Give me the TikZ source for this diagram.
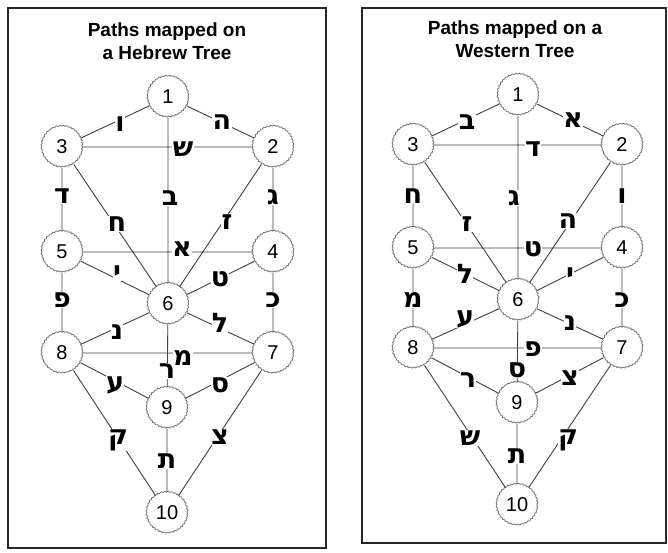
\documentclass[tikz,border=0pt]{standalone}
\usepackage{fontspec}
\setmainfont{Liberation Sans}
\newfontfamily\hebfont[Script=Hebrew]{DejaVu Sans}
\usetikzlibrary{decorations.pathmorphing}
\begin{document}
\begin{tikzpicture}[x=1pt,y=-1pt,
  sefira/.style={circle, minimum size=41pt, inner sep=0pt, fill=white, draw=black!55, line width=0.8pt,
    decorate, decoration={snake, amplitude=0.5pt, segment length=3.6pt},
    font=\fontsize{20}{20}\selectfont},
  conn/.style={draw=black!75, line width=0.9pt},
  heb/.style={fill=white, inner sep=0.3pt, yshift=-3pt, font=\hebfont\bfseries\fontsize{27}{27}\selectfont},
  ttl/.style={font=\bfseries\fontsize{19}{23}\selectfont, align=center},
  frame/.style={draw=black!85, line width=1.6pt}]
\useasboundingbox (0,0) rectangle (668,552);
\fill[white] (0,0) rectangle (668,552);
% frames
\draw[frame] (8,8) rectangle (326,548);
\draw[frame] (362,8) rectangle (666,543);
% titles
\node[ttl] (tL) at (167,41) {Paths mapped on\\a Hebrew Tree};
\node[ttl] (tR) at (515,39) {Paths mapped on a\\Western Tree};
% ---------------- left tree ----------------
\node[sefira] (L1) at (168,97) {1};
\node[sefira] (L3) at (62,147) {3};
\node[sefira] (L2) at (273,147) {2};
\node[sefira] (L5) at (62,252) {5};
\node[sefira] (L4) at (273,252) {4};
\node[sefira] (L6) at (168,304) {6};
\node[sefira] (L8) at (62,353) {8};
\node[sefira] (L7) at (273,353) {7};
\node[sefira] (L9) at (167,408) {9};
\node[sefira] (L10) at (167,513) {10};
\draw[conn] (L1)--(L3) (L1)--(L2) (L3)--(L2) (L1)--(L6) (L3)--(L6) (L2)--(L6)
  (L3)--(L5) (L2)--(L4) (L5)--(L4) (L5)--(L6) (L4)--(L6) (L5)--(L8) (L4)--(L7)
  (L8)--(L6) (L7)--(L6) (L8)--(L7) (L6)--(L9) (L8)--(L9) (L7)--(L9)
  (L8)--(L10) (L7)--(L10) (L9)--(L10);
\node[heb] (la) at (120,121) {ו};
\node[heb] (lb) at (222,119) {ה};
\node[heb] (lc) at (183,146) {ש};
\node[heb] (ld) at (170,195) {ב};
\node[heb] (le) at (117,221) {ח};
\node[heb] (lf) at (227,219) {ז};
\node[heb] (lg) at (62,193) {ד};
\node[heb] (lh) at (273,194) {ג};
\node[heb] (li) at (182,246) {א};
\node[heb] (lj) at (220,276) {ט};
\node[heb] (lk) at (117,270) {י};
\node[heb] (ll) at (62,297) {פ};
\node[heb] (lm) at (273,297) {כ};
\node[heb] (ln) at (117,329) {נ};
\node[heb] (lo) at (220,320) {ל};
\node[heb] (lp) at (183,355) {מ};
\node[heb] (lq) at (167,368) {ר};
\node[heb] (lr) at (115,382) {ע};
\node[heb] (ls) at (220,382) {ס};
\node[heb] (lt) at (118,437) {ק};
\node[heb] (lu) at (220,434) {צ};
\node[heb] (lv) at (167,458) {ת};
% ---------------- right tree ----------------
\node[sefira] (R1) at (518,95) {1};
\node[sefira] (R3) at (413,145) {3};
\node[sefira] (R2) at (622,145) {2};
\node[sefira] (R5) at (413,248) {5};
\node[sefira] (R4) at (622,248) {4};
\node[sefira] (R6) at (518,300) {6};
\node[sefira] (R8) at (413,348) {8};
\node[sefira] (R7) at (622,348) {7};
\node[sefira] (R9) at (517,403) {9};
\node[sefira] (R10) at (517,505) {10};
\draw[conn] (R1)--(R3) (R1)--(R2) (R3)--(R2) (R1)--(R6) (R3)--(R6) (R2)--(R6)
  (R3)--(R5) (R2)--(R4) (R5)--(R4) (R5)--(R6) (R4)--(R6) (R5)--(R8) (R4)--(R7)
  (R8)--(R6) (R7)--(R6) (R8)--(R7) (R6)--(R9) (R8)--(R9) (R7)--(R9)
  (R8)--(R10) (R7)--(R10) (R9)--(R10);
\node[heb] (ra) at (467,119) {ב};
\node[heb] (rb) at (573,117) {א};
\node[heb] (rc) at (533,146) {ד};
\node[heb] (rd) at (514,195) {ג};
\node[heb] (re) at (413,193) {ח};
\node[heb] (rf) at (622,193) {ו};
\node[heb] (rg) at (467,221) {ז};
\node[heb] (rh) at (568,218) {ה};
\node[heb] (ri) at (533,246) {ט};
\node[heb] (rj) at (465,271) {ל};
\node[heb] (rk) at (570,272) {י};
\node[heb] (rl) at (413,297) {מ};
\node[heb] (rm) at (622,297) {כ};
\node[heb] (rn) at (465,316) {ע};
\node[heb] (ro) at (570,320) {נ};
\node[heb] (rp) at (533,346) {פ};
\node[heb] (rq) at (517,367) {ס};
\node[heb] (rr) at (468,377) {ר};
\node[heb] (rs) at (570,375) {צ};
\node[heb] (rt) at (470,435) {ש};
\node[heb] (ru) at (568,437) {ק};
\node[heb] (rv) at (517,453) {ת};
\end{tikzpicture}
\end{document}
